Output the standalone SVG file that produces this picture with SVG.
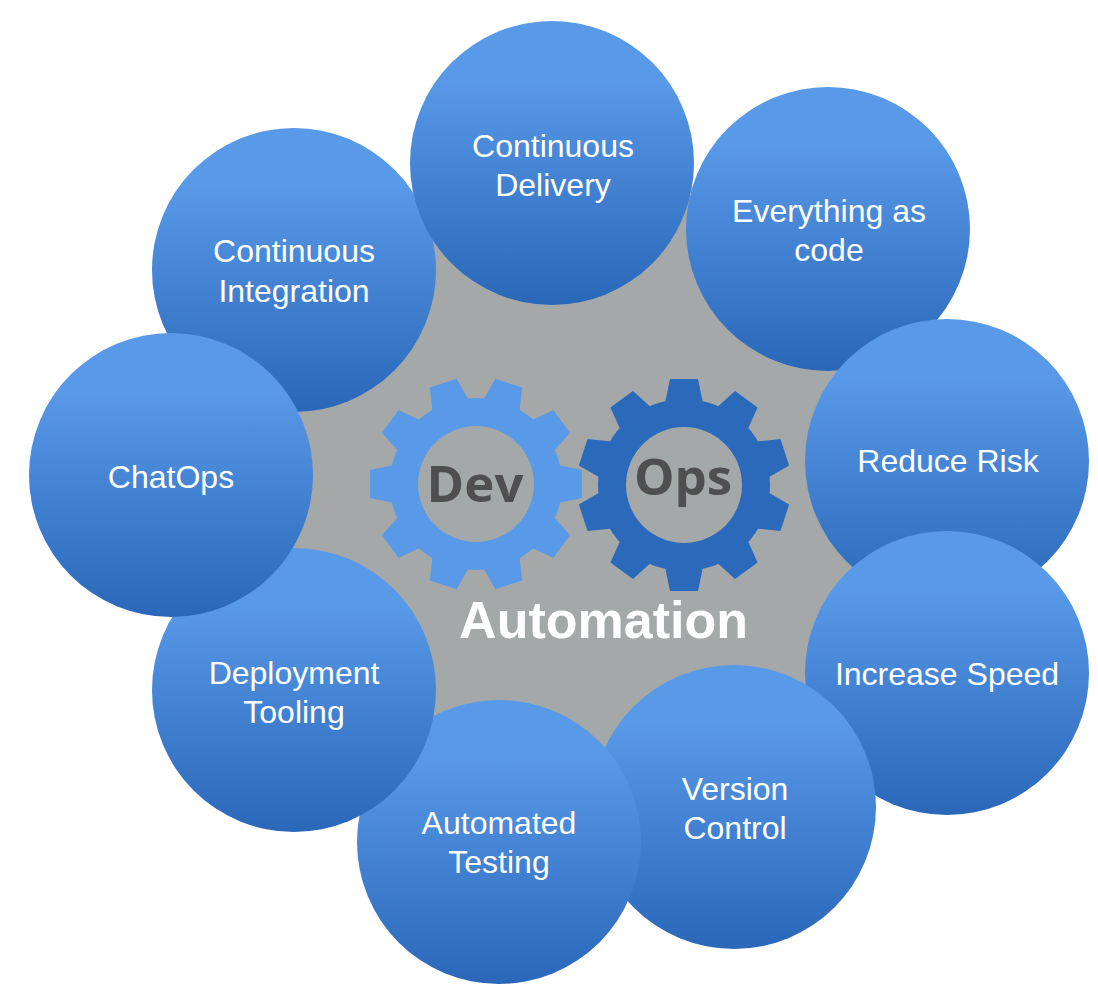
<svg xmlns="http://www.w3.org/2000/svg" xmlns:xlink="http://www.w3.org/1999/xlink" width="1098" height="984" viewBox="0 0 1098 984">
<style>
.c{fill:url(#g)}
.t{font-family:"Liberation Sans",Arial,sans-serif;font-size:32px;fill:#fff;text-anchor:middle}
.h{font-family:"Open Sans","Noto Sans",sans-serif;font-weight:700;font-size:51px;fill:#4f4f4f;text-anchor:middle}
.a{font-family:"Liberation Sans",Arial,sans-serif;font-weight:700;font-size:52px;fill:#fff;text-anchor:middle}
.dev{fill:#5899e8}
.ops{fill:#2b69bb}
</style>
<defs>
<linearGradient id="g" x1="0" y1="0" x2="0" y2="1">
<stop offset="0.2" stop-color="#5899e8"/>
<stop offset="1" stop-color="#2a67b8"/>
</linearGradient>
<path id="ring" fill-rule="evenodd" d="M-86,0A86,86 0 1 0 86,0A86,86 0 1 0 -86,0ZM-58,0A58,58 0 1 1 58,0A58,58 0 1 1 -58,0Z"/>
<path id="tooth" d="M-19,-82L-14,-106L14,-106L19,-82L0,-70Z"/>
<g id="teeth">
<use xlink:href="#tooth"/><use xlink:href="#tooth" transform="rotate(36)"/><use xlink:href="#tooth" transform="rotate(72)"/><use xlink:href="#tooth" transform="rotate(108)"/><use xlink:href="#tooth" transform="rotate(144)"/><use xlink:href="#tooth" transform="rotate(180)"/><use xlink:href="#tooth" transform="rotate(216)"/><use xlink:href="#tooth" transform="rotate(252)"/><use xlink:href="#tooth" transform="rotate(288)"/><use xlink:href="#tooth" transform="rotate(324)"/>
</g>
</defs>
<rect width="1098" height="984" fill="#fff"/>
<polygon id="backdrop" fill="#a5a8a8" points="552,163 828,229 947,461 947,673 734,807 499,842 294,690 171,475 294,270"/>
<g id="gear-dev" class="dev" transform="translate(476,484)">
<use xlink:href="#ring"/><use xlink:href="#teeth" transform="rotate(18)"/>
<text class="h" x="-1" y="18">Dev</text>
</g>
<g id="gear-ops" class="ops" transform="translate(684,485)">
<use xlink:href="#ring"/><use xlink:href="#teeth"/>
<text class="h" x="-1" y="10">Ops</text>
</g>
<text id="automation" class="a" x="603.5" y="638">Automation</text>
<g id="continuous-integration"><circle class="c" cx="294" cy="270" r="142"/><text class="t"><tspan x="294" y="262">Continuous</tspan><tspan x="294" y="302">Integration</tspan></text></g>
<g id="continuous-delivery"><circle class="c" cx="552" cy="163" r="142"/><text class="t"><tspan x="553" y="157">Continuous</tspan><tspan x="553" y="196">Delivery</tspan></text></g>
<g id="everything-as-code"><circle class="c" cx="828" cy="229" r="142"/><text class="t"><tspan x="829" y="222">Everything as</tspan><tspan x="829" y="261">code</tspan></text></g>
<g id="reduce-risk"><circle class="c" cx="947" cy="461" r="142"/><text class="t" x="948" y="472">Reduce Risk</text></g>
<g id="increase-speed"><circle class="c" cx="947" cy="673" r="142"/><text class="t" x="947" y="685">Increase Speed</text></g>
<g id="version-control"><circle class="c" cx="734" cy="807" r="142"/><text class="t"><tspan x="735" y="800">Version</tspan><tspan x="735" y="839">Control</tspan></text></g>
<g id="automated-testing"><circle class="c" cx="499" cy="842" r="142"/><text class="t"><tspan x="499" y="834">Automated</tspan><tspan x="499" y="873">Testing</tspan></text></g>
<g id="deployment-tooling"><circle class="c" cx="294" cy="690" r="142"/><text class="t"><tspan x="294" y="684">Deployment</tspan><tspan x="294" y="723">Tooling</tspan></text></g>
<g id="chatops"><circle class="c" cx="171" cy="475" r="142"/><text class="t" x="171" y="488">ChatOps</text></g>
</svg>
